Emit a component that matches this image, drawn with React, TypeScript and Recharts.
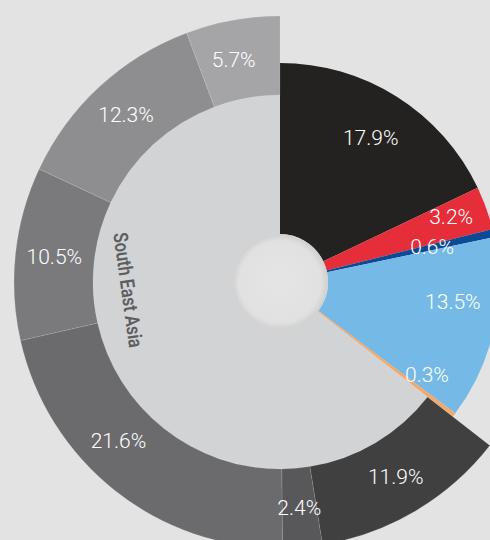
import { PieChart, Pie, Cell } from 'recharts';

// inner ring (full depth) slices
const INNER_NAMES = ['Segment 1', 'Segment 2', 'Segment 3', 'Segment 4', 'Segment 5'];
const INNER_VALUES = [17.9, 3.2, 0.6, 13.5, 0.3];
const INNER_COLORS = ['#242220', '#e52e3a', '#0b4b96', '#75bae7', '#f4a969'];

// South East Asia breakdown, clockwise from the orange slice
const SEA_LABEL = 'South East Asia';
const SEA_VALUES = [11.9, 2.4, 21.6, 10.5, 12.3, 5.7];
const SEA_COLORS = ['#404040', '#58585a', '#6b6b6d', '#7a7a7c', '#8e8e90', '#a5a5a7'];

const W = 490;
const H = 540;
const CX = 280;
const CY = 282;
const HOLE = 48;
const R_INNER = 219;
const R_SEA = 187;
const R_OUTER = 266;
const RAD = Math.PI / 180;

// small label nudges (radius px, angle deg)
const INNER_NUDGE = [[0, 0], [13, 1], [-14, 0], [4, 6], [4, 5]];
const SEA_NUDGE = [0, 0, -7, 0, 0, 1.5];

const seaTotal = SEA_VALUES.reduce((a, b) => a + b, 0);
const innerTotal = INNER_VALUES.reduce((a, b) => a + b, 0);

const baseData = [
  ...INNER_NAMES.map((name, i) => ({ name, value: INNER_VALUES[i] })),
  { name: SEA_LABEL, value: seaTotal },
];
const outerData = [
  { name: 'rest', value: innerTotal },
  ...SEA_VALUES.map((v, i) => ({ name: `${SEA_LABEL} ${i + 1}`, value: v })),
];

const labelStyle = {
  fill: '#ffffff',
  fontFamily: 'Roboto, sans-serif',
  fontSize: 21,
  fontWeight: 300,
};

const polar = (cx: number, cy: number, r: number, a: number) => ({
  x: cx + r * Math.cos(-a * RAD),
  y: cy + r * Math.sin(-a * RAD),
});

const InnerLabel = (p: any) => {
  const i = p.index;
  if (i >= INNER_VALUES.length) return null;
  const [dr, da] = INNER_NUDGE[i];
  const { x, y } = polar(p.cx, p.cy, 170 + dr, p.midAngle + da);
  return (
    <text x={x} y={y} textAnchor="middle" dominantBaseline="central" style={labelStyle}>
      {INNER_VALUES[i].toFixed(1)}%
    </text>
  );
};

const SeaLabel = (p: any) => {
  if (p.index !== INNER_VALUES.length) return null;
  const { x, y } = polar(p.cx, p.cy, 152, 183);
  return (
    <text
      x={x}
      y={y}
      textAnchor="middle"
      dominantBaseline="central"
      textLength={116}
      lengthAdjust="spacingAndGlyphs"
      transform={`rotate(82 ${x} ${y})`}
      style={{
        fill: '#5d5e60',
        fontFamily: "Roboto, 'DejaVu Sans Condensed', sans-serif",
        fontSize: 20,
        fontWeight: 600,
      }}
    >
      {SEA_LABEL}
    </text>
  );
};

const OuterLabel = (p: any) => {
  if (p.index === 0) return null;
  const i = p.index - 1;
  const { x, y } = polar(p.cx, p.cy, 227, p.midAngle + SEA_NUDGE[i]);
  return (
    <text x={x} y={y} textAnchor="middle" dominantBaseline="central" style={labelStyle}>
      {SEA_VALUES[i].toFixed(1)}%
    </text>
  );
};

export default function App() {
  return (
    <div style={{ position: 'absolute', left: 0, top: 0, width: W, height: H, background: '#e3e3e3', overflow: 'hidden' }}>
      <PieChart width={W} height={H} margin={{ top: 0, right: 0, bottom: 0, left: 0 }}>
        <defs>
          <radialGradient id="hole" cx="50%" cy="50%" r="50%">
            <stop offset="0%" stopColor="#e5e5e5" />
            <stop offset="85%" stopColor="#e1e1e1" />
            <stop offset="100%" stopColor="#cfcfcf" />
          </radialGradient>
        </defs>
        <Pie
          data={baseData}
          dataKey="value"
          cx={CX}
          cy={CY}
          innerRadius={HOLE}
          outerRadius={R_INNER}
          startAngle={90}
          endAngle={-270}
          stroke="none"
          label={InnerLabel}
          labelLine={false}
          isAnimationActive={false}
        >
          {baseData.map((d, i) => (
            <Cell key={d.name} fill={i < INNER_COLORS.length ? INNER_COLORS[i] : 'none'} />
          ))}
        </Pie>
        <Pie
          data={baseData}
          dataKey="value"
          cx={CX}
          cy={CY}
          innerRadius={HOLE}
          outerRadius={R_SEA}
          startAngle={90}
          endAngle={-270}
          stroke="none"
          label={SeaLabel}
          labelLine={false}
          isAnimationActive={false}
        >
          {baseData.map((d, i) => (
            <Cell key={d.name} fill={i < INNER_COLORS.length ? 'none' : '#d2d3d5'} />
          ))}
        </Pie>
        <Pie
          data={outerData}
          dataKey="value"
          cx={CX}
          cy={CY}
          innerRadius={R_SEA}
          outerRadius={R_OUTER}
          startAngle={90}
          endAngle={-270}
          label={OuterLabel}
          labelLine={false}
          isAnimationActive={false}
        >
          {outerData.map((d, i) => (
            <Cell
              key={d.name}
              fill={i === 0 ? 'none' : SEA_COLORS[i - 1]}
              stroke={i === 0 ? 'none' : 'rgba(255,255,255,0.18)'}
              strokeWidth={0.6}
            />
          ))}
        </Pie>
        <Pie
          data={[{ name: 'hole', value: 1 }]}
          dataKey="value"
          cx={CX}
          cy={CY}
          innerRadius={0}
          outerRadius={HOLE}
          stroke="none"
          isAnimationActive={false}
        >
          <Cell fill="url(#hole)" />
        </Pie>
      </PieChart>
    </div>
  );
}
